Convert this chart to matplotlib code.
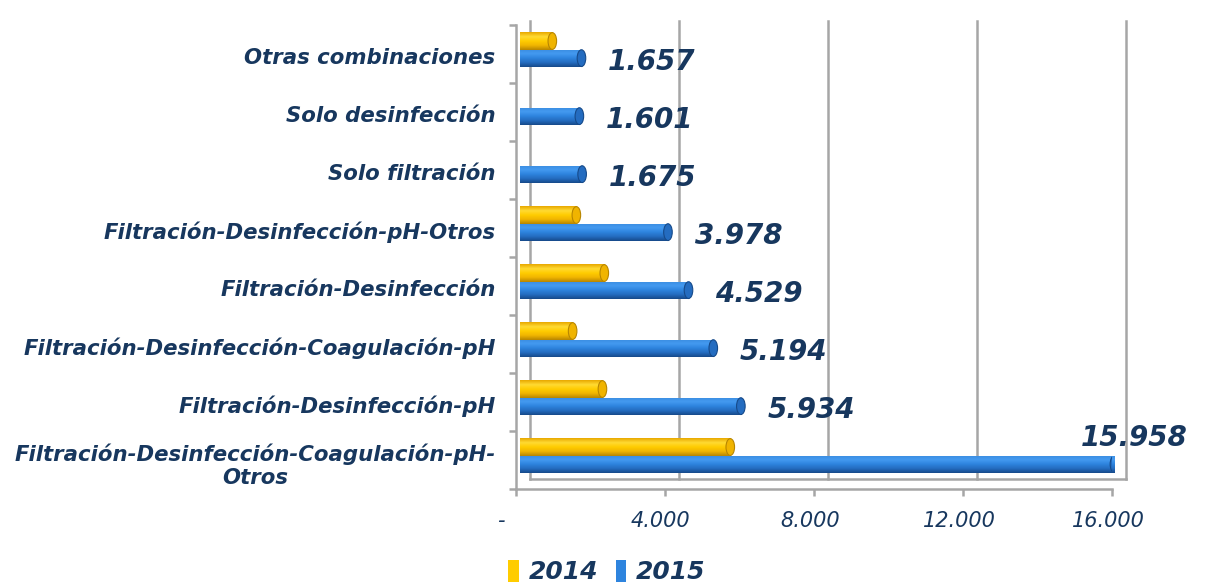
import numpy as np
import matplotlib.pyplot as plt
from matplotlib.colors import LinearSegmentedColormap
from matplotlib.patches import Ellipse
from matplotlib.transforms import ScaledTranslation
from matplotlib.lines import Line2D

# data (bottom -> top)
categorias = [
    'Filtración-Desinfección-Coagulación-pH-\nOtros',
    'Filtración-Desinfección-pH',
    'Filtración-Desinfección-Coagulación-pH',
    'Filtración-Desinfección',
    'Filtración-Desinfección-pH-Otros',
    'Solo filtración',
    'Solo desinfección',
    'Otras combinaciones',
]
valores_2015 = [15958, 5934, 5194, 4529, 3978, 1675, 1601, 1657]
valores_2014 = [5650, 2220, 1420, 2270, 1520, 0, 0, 875]
series = ['2014', '2015']
ticks_x = [0, 4000, 8000, 12000, 16000]
ticks_x_txt = ['-', '4.000', '8.000', '12.000', '16.000']

NAVY = '#17375E'
GRIS = '#A6A6A6'
amarillo = ['#E8A800', '#FFDA33', '#FFCC00', '#F0B400', '#B88600']
azul = ['#3A8CE0', '#449AF0', '#2E84DE', '#246CC0', '#164A8A']


def fmt(v):
    return f'{v:,}'.replace(',', '.')


fig = plt.figure(figsize=(12.05, 5.83), dpi=100)
ax = fig.add_axes([515.7 / 1205, (583 - 488.5) / 583, 596.3 / 1205, 464 / 583])

y = np.arange(len(categorias))
h = 0.295
off = ScaledTranslation(4 / 100, 0, fig.dpi_scale_trans)

# back wall (3d look)
back = ScaledTranslation(14 / 100, 10 / 100, fig.dpi_scale_trans)
for t in ticks_x:
    ax.plot([t, t], [0, 0.985], color=GRIS, lw=1.8, transform=ax.get_xaxis_transform() + back,
            clip_on=False, zorder=0)
ax.plot([0, 16000], [0, 0], color=GRIS, lw=1.8, transform=ax.get_xaxis_transform() + back,
        clip_on=False, zorder=0)
# diagonals at the floor and top-left corner
esquinas = [(t, -0.5) for t in ticks_x] + [(0, 7.5)]
for xe, ye in esquinas:
    xa, ya = ax.transData.transform((xe, ye))
    p0 = fig.transFigure.inverted().transform((xa, ya))
    p1 = fig.transFigure.inverted().transform((xa + 14, ya + 10))
    fig.add_artist(Line2D([p0[0], p1[0]], [p0[1], p1[1]], color=GRIS, lw=1.8, zorder=0))


def cilindro(vals, pos, cols, etiqueta):
    cmap = LinearSegmentedColormap.from_list('c', cols)
    grad = np.linspace(0, 1, 64).reshape(-1, 1)
    bars = ax.barh(pos, vals, height=h, color=cols[2], label=etiqueta, zorder=2,
                   transform=ax.transData + off)
    for b, v, p in zip(bars, vals, pos):
        if v <= 0:
            b.set_visible(False)
            continue
        im = ax.imshow(grad, cmap=cmap, aspect='auto', origin='upper',
                       extent=(0, v, p - h / 2, p + h / 2), zorder=3,
                       transform=ax.transData + off)
        im.set_clip_path(b)
        e = Ellipse((v, p), width=230, height=h * 0.98, facecolor=cols[3],
                    edgecolor=cols[4], lw=0.8, zorder=4, transform=ax.transData + off)
        ax.add_patch(e)
    return bars


cilindro(valores_2014, y + 0.215, amarillo, series[0])
cilindro(valores_2015, y - 0.08, azul, series[1])

# value labels
for p, v in zip(y, valores_2015):
    if v > 14000:
        ax.annotate(fmt(v), (v, p + 0.37), xytext=(-21, 0), textcoords='offset points',
                    ha='left', va='center', fontsize=20, fontweight='bold', style='italic',
                    color=NAVY, annotation_clip=False)
    else:
        ax.annotate(fmt(v), (v, p - 0.15), xytext=(22, 0), textcoords='offset points',
                    ha='left', va='center', fontsize=20, fontweight='bold', style='italic',
                    color=NAVY)

ax.set_xlim(0, 16000)
ax.set_ylim(-0.5, len(categorias) - 0.5)

for s in ['top', 'right']:
    ax.spines[s].set_visible(False)
for s in ['left', 'bottom']:
    ax.spines[s].set_color(GRIS)
    ax.spines[s].set_linewidth(1.8)
ax.set_facecolor('none')

ax.set_xticks(ticks_x)
ax.set_xticklabels(ticks_x_txt, fontsize=15, style='italic', color=NAVY)
ax.tick_params(axis='x', length=5, width=1.8, color=GRIS, pad=11)
xl = ax.get_xticklabels()
for lab in xl:
    lab.set_transform(lab.get_transform() + ScaledTranslation(-4 / 100, 0, fig.dpi_scale_trans))
xl[0].set_transform(xl[0].get_transform() + ScaledTranslation(-11 / 100, 0, fig.dpi_scale_trans))

ax.set_yticks(y)
ax.set_yticklabels(categorias, fontsize=15.3, fontweight='bold', style='italic', color=NAVY,
                   multialignment='center')
ax.tick_params(axis='y', length=0, pad=14.5)
for lab in ax.get_yticklabels():
    lab.set_transform(lab.get_transform() + ScaledTranslation(0, -3 / 100, fig.dpi_scale_trans))
ax.set_yticks(np.arange(-0.5, len(categorias), 1), minor=True)
ax.tick_params(axis='y', which='minor', length=5, width=1.8, color=GRIS)

leg = fig.legend(loc='center', bbox_to_anchor=(607 / 1205, (583 - 572) / 583), ncol=2,
                 frameon=False, handlelength=0.42, handleheight=1.0, handletextpad=0.4,
                 columnspacing=0.7, prop={'size': 18, 'weight': 'bold', 'style': 'italic'})
for t in leg.get_texts():
    t.set_color(NAVY)

fig.savefig('out.png', dpi=100)
